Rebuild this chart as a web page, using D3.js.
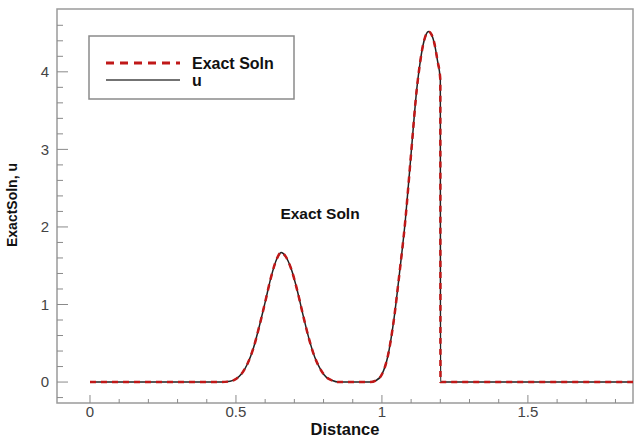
<!DOCTYPE html>
<html>
<head>
<meta charset="utf-8">
<script src="https://cdn.jsdelivr.net/npm/d3@7"></script>
<style>
  body { margin: 0; background: #fff; }
  text { font-family: "Liberation Sans", Arial, sans-serif; }
</style>
</head>
<body>
<div id="chart"></div>
<script>
// Data
const distance = [0, 0.2, 0.45, 0.48, 0.50, 0.52, 0.54, 0.56, 0.58, 0.60, 0.62, 0.64, 0.655, 0.67, 0.69, 0.71, 0.73, 0.75, 0.77, 0.79, 0.81, 0.83, 0.85,
    0.96, 0.98, 1.00, 1.02, 1.04, 1.06, 1.08, 1.10, 1.12, 1.13, 1.14, 1.15, 1.16, 1.17, 1.18, 1.19, 1.20, 1.2005, 1.5, 1.86];
const exactSoln = [0, 0, 0, 0.01, 0.04, 0.11, 0.24, 0.44, 0.72, 1.03, 1.35, 1.59, 1.67, 1.62, 1.45, 1.18, 0.86, 0.56, 0.32, 0.16, 0.06, 0.02, 0,
    0, 0.02, 0.10, 0.33, 0.78, 1.40, 2.08, 2.95, 3.80, 4.10, 4.33, 4.47, 4.52, 4.48, 4.36, 4.15, 3.90, 0, 0, 0];
const uValues = [0, 0, 0, 0.01, 0.04, 0.11, 0.24, 0.44, 0.72, 1.03, 1.35, 1.59, 1.67, 1.62, 1.45, 1.18, 0.86, 0.56, 0.32, 0.16, 0.06, 0.02, 0,
    0, 0.02, 0.10, 0.33, 0.78, 1.40, 2.08, 2.95, 3.80, 4.10, 4.33, 4.47, 4.52, 4.48, 4.36, 4.15, 3.90, 0, 0, 0];
const xTicks = [0, 0.5, 1, 1.5];
const yTicks = [0, 1, 2, 3, 4];
const seriesNames = ['Exact Soln', 'u'];

const width = 635, height = 439;
const margin = [9, 36, 57, 2]; // top, bottom, left, right

const svg = d3.select('#chart').append('svg')
    .attr('width', width)
    .attr('height', height);

const scaleX = d3.scaleLinear([-0.113, 1.86], [margin[2], width - margin[3]]);
const scaleY = d3.scaleLinear([-0.27, 4.81], [height - margin[1], margin[0]]);

const x0 = margin[2], x1 = width - margin[3], y0 = height - margin[1], y1 = margin[0];

// frame
svg.append('rect')
    .attr('x', x0).attr('y', y1)
    .attr('width', x1 - x0).attr('height', y0 - y1)
    .style('fill', 'none')
    .style('stroke', '#9a9a9a')
    .style('stroke-width', 1.5);

// x axis ticks (inward)
const minorX = d3.range(0, 1.86, 0.1).filter(v => !xTicks.some(t => Math.abs(t - v) < 1e-6));
svg.append('g').selectAll('line.minor').data(minorX).join('line')
    .attr('x1', d => scaleX(d)).attr('x2', d => scaleX(d))
    .attr('y1', y0).attr('y2', y0 - 4)
    .style('stroke', '#8a8a8a').style('stroke-width', 1);
svg.append('g').selectAll('line.major').data(xTicks).join('line')
    .attr('x1', d => scaleX(d)).attr('x2', d => scaleX(d))
    .attr('y1', y0).attr('y2', y0 - 8)
    .style('stroke', '#8a8a8a').style('stroke-width', 1);
svg.append('g').selectAll('text').data(xTicks).join('text')
    .attr('x', d => scaleX(d)).attr('y', y0 + 13.5)
    .attr('text-anchor', 'middle')
    .style('font-size', '15px').style('fill', '#444')
    .text(d => d);

// y axis ticks (inward)
const minorY = d3.range(-0.2, 4.7, 0.2).filter(v => !yTicks.some(t => Math.abs(t - v) < 1e-6));
svg.append('g').selectAll('line.minor').data(minorY).join('line')
    .attr('x1', x0).attr('x2', x0 + 6)
    .attr('y1', d => scaleY(d)).attr('y2', d => scaleY(d))
    .style('stroke', '#8a8a8a').style('stroke-width', 1);
svg.append('g').selectAll('line.major').data(yTicks).join('line')
    .attr('x1', x0).attr('x2', x0 + 11)
    .attr('y1', d => scaleY(d)).attr('y2', d => scaleY(d))
    .style('stroke', '#8a8a8a').style('stroke-width', 1);
svg.append('g').selectAll('text').data(yTicks).join('text')
    .attr('x', x0 - 8).attr('y', d => scaleY(d))
    .attr('dy', '0.35em')
    .attr('text-anchor', 'end')
    .style('font-size', '15px').style('fill', '#444')
    .text(d => d);

// axis labels
svg.append('text')
    .attr('x', (x0 + x1) / 2).attr('y', 434.5)
    .attr('text-anchor', 'middle')
    .style('font-size', '16.5px').style('font-weight', 'bold').style('fill', '#111')
    .text('Distance');
svg.append('text')
    .attr('transform', `translate(17, 205)rotate(-90)`)
    .attr('text-anchor', 'middle')
    .style('font-size', '14px').style('font-weight', 'bold').style('fill', '#111')
    .text('ExactSoln, u');

// lines
const line = d3.line()
    .x(d => scaleX(d[0]))
    .y(d => scaleY(d[1]))
    .curve(d3.curveMonotoneX);

const plot = svg.append('g');
plot.append('path')
    .datum(distance.map((d, i) => [d, uValues[i]]))
    .attr('d', line)
    .style('fill', 'none').style('stroke', '#222').style('stroke-width', 1.5);
plot.append('path')
    .datum(distance.map((d, i) => [d, exactSoln[i]]))
    .attr('d', line)
    .style('fill', 'none').style('stroke', '#c01818').style('stroke-width', 2.5)
    .style('stroke-dasharray', '6,5');

// annotation
svg.append('text')
    .attr('x', 320).attr('y', 219)
    .attr('text-anchor', 'middle')
    .style('font-size', '15.5px').style('font-weight', 'bold').style('fill', '#111')
    .text('Exact Soln');

// legend
const legend = svg.append('g').attr('transform', 'translate(89, 36)');
legend.append('rect')
    .attr('width', 205).attr('height', 63)
    .style('fill', '#fff').style('stroke', '#8a8a8a').style('stroke-width', 1.5);
const items = legend.selectAll('g.item').data(seriesNames).join('g')
    .attr('transform', (_, i) => `translate(0, ${27 + i * 17})`);
items.append('line')
    .attr('x1', 17).attr('x2', 91)
    .style('stroke', (_, i) => i === 0 ? '#c01818' : '#444')
    .style('stroke-width', (_, i) => i === 0 ? 3 : 1.5)
    .style('stroke-dasharray', (_, i) => i === 0 ? '8,6' : null);
items.append('text')
    .attr('x', 103).attr('dy', '0.35em')
    .style('font-size', '16px').style('font-weight', 'bold').style('fill', '#111')
    .text(d => d);
</script>
</body>
</html>
